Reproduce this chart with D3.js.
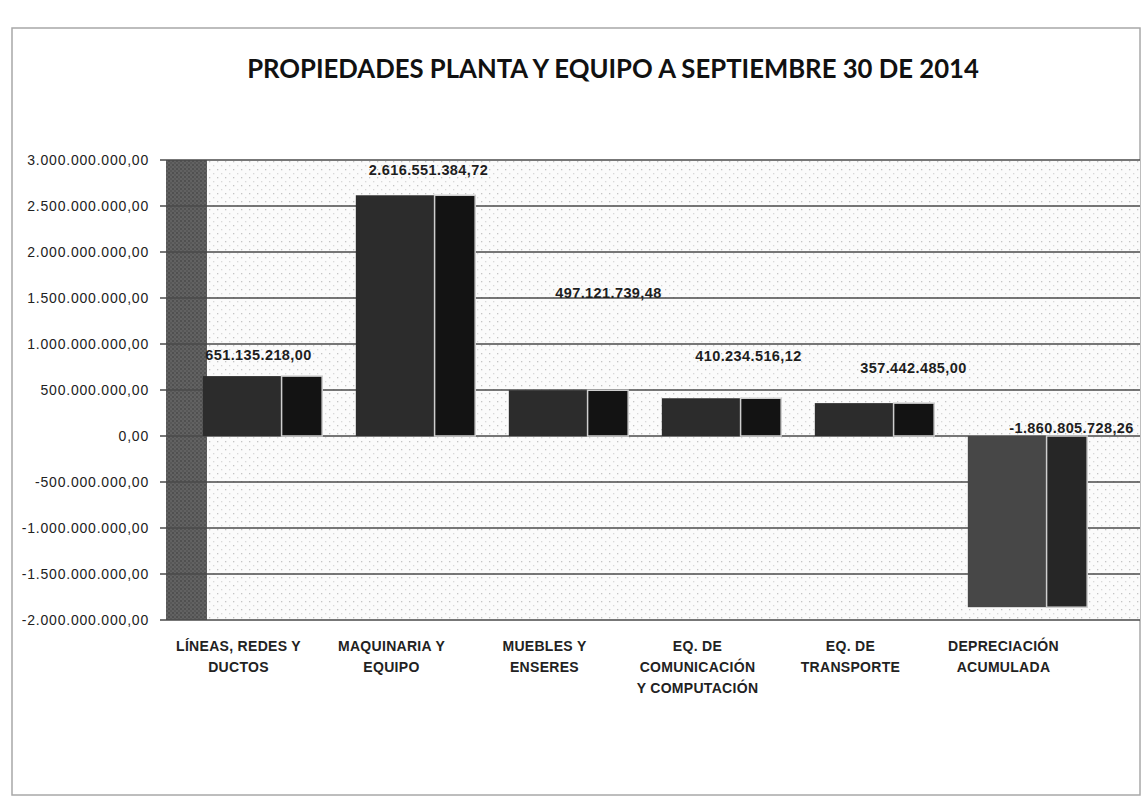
<!DOCTYPE html>
<html>
<head>
<meta charset="utf-8">
<script src="https://cdn.jsdelivr.net/npm/d3@7"></script>
<style>
  body { margin: 0; background: #fff; }
  svg { display: block; }
  .tick text { font-family: "Liberation Sans", Arial, sans-serif; }
</style>
</head>
<body>
<svg id="chart"></svg>
<script>
var width = 1142;
var height = 802;

// data
var categories = [
  ["LÍNEAS, REDES Y", "DUCTOS"],
  ["MAQUINARIA Y", "EQUIPO"],
  ["MUEBLES Y", "ENSERES"],
  ["EQ. DE", "COMUNICACIÓN", "Y COMPUTACIÓN"],
  ["EQ. DE", "TRANSPORTE"],
  ["DEPRECIACIÓN", "ACUMULADA"]
];
var values = [651135218.00, 2616551384.72, 497121739.48, 410234516.12, 357442485.00, -1860805728.26];
var yTicks = [3000000000, 2500000000, 2000000000, 1500000000, 1000000000, 500000000, 0,
  -500000000, -1000000000, -1500000000, -2000000000];

// where Excel dropped the value labels (offset from bar centre / bar end)
var labelDx = [-4, 13, 40, 27, 39, 44];
var labelDy = [-21, -25, -97, -42, -35, -8];

var locale = d3.formatLocale({ decimal: ",", thousands: ".", grouping: [3], currency: ["", ""], minus: "-" });
var fmt = locale.format(",.2f");

var svg = d3.select("#chart").attr("width", width).attr("height", height);
var defs = svg.append("defs");

var dots = defs.append("pattern")
  .attr("id", "dots").attr("patternUnits", "userSpaceOnUse")
  .attr("width", 8).attr("height", 8);
dots.append("rect").attr("width", 8).attr("height", 8).attr("fill", "#fbfbfb");
dots.append("rect").attr("x", 1).attr("y", 1).attr("width", 1.3).attr("height", 1.3).attr("fill", "#c4c4c4");
dots.append("rect").attr("x", 5).attr("y", 5).attr("width", 1.3).attr("height", 1.3).attr("fill", "#d8d8d8");

var wallDots = defs.append("pattern")
  .attr("id", "wallDots").attr("patternUnits", "userSpaceOnUse")
  .attr("width", 4).attr("height", 4);
wallDots.append("rect").attr("width", 4).attr("height", 4).attr("fill", "#626262");
wallDots.append("rect").attr("width", 2).attr("height", 2).attr("fill", "#505050");
wallDots.append("rect").attr("x", 2).attr("y", 2).attr("width", 2).attr("height", 2).attr("fill", "#575757");

// outer chart frame (scanned page)
svg.append("rect")
  .attr("x", 12).attr("y", 28).attr("width", 1128).attr("height", 767)
  .attr("fill", "#fff").attr("stroke", "#a8a8a8").attr("stroke-width", 1.5);

svg.append("text")
  .attr("x", 613).attr("y", 78)
  .attr("text-anchor", "middle")
  .style("font-family", "Lato, 'Liberation Sans', sans-serif")
  .style("font-weight", "bold")
  .style("font-size", "25.7px")
  .style("fill", "#111")
  .text("PROPIEDADES PLANTA Y EQUIPO A SEPTIEMBRE 30 DE 2014");

var plotLeft = 166, wallRight = 207, plotRight = 1140;

var y = d3.scaleLinear().domain([-2000000000, 3000000000]).range([620, 160]);
var x = d3.scaleBand()
  .domain(d3.range(values.length))
  .range([186, 1104])
  .paddingInner(0.22)
  .paddingOuter(0.11);

// dotted back wall and dark side wall
svg.append("rect")
  .attr("x", wallRight).attr("y", y(3000000000))
  .attr("width", plotRight - wallRight).attr("height", y(-2000000000) - y(3000000000))
  .attr("fill", "url(#dots)");
svg.append("rect")
  .attr("x", plotLeft).attr("y", y(3000000000))
  .attr("width", wallRight - plotLeft).attr("height", y(-2000000000) - y(3000000000))
  .attr("fill", "url(#wallDots)");

// gridlines
svg.append("g").selectAll("line")
  .data(yTicks)
  .enter().append("line")
  .attr("x1", plotLeft - 6).attr("x2", plotRight)
  .attr("y1", function(d) { return y(d); })
  .attr("y2", function(d) { return y(d); })
  .attr("stroke", "#4a4a4a")
  .attr("stroke-width", 1.6);

// y axis labels
var yAxis = svg.append("g")
  .attr("transform", "translate(149,0)")
  .call(d3.axisLeft(y).tickValues(yTicks).tickFormat(fmt).tickSize(0).tickPadding(0));
yAxis.select(".domain").remove();
yAxis.selectAll("text")
  .style("font-size", "14px")
  .style("letter-spacing", "0.8px")
  .style("fill", "#222");

// bars: front face + darker side face
var bars = svg.append("g").selectAll("g")
  .data(values)
  .enter().append("g");

var frontFrac = 0.66;
bars.append("rect")
  .attr("x", function(d, i) { return x(i); })
  .attr("y", function(d) { return y(Math.max(0, d)); })
  .attr("width", x.bandwidth() * frontFrac)
  .attr("height", function(d) { return Math.abs(y(d) - y(0)); })
  .attr("fill", function(d) { return d < 0 ? "#474747" : "#2c2c2c"; });

bars.append("rect")
  .attr("x", function(d, i) { return x(i) + x.bandwidth() * frontFrac; })
  .attr("y", function(d) { return y(Math.max(0, d)); })
  .attr("width", x.bandwidth() * (1 - frontFrac))
  .attr("height", function(d) { return Math.abs(y(d) - y(0)); })
  .attr("fill", function(d) { return d < 0 ? "#262626" : "#131313"; })
  .attr("stroke", "#cfcfcf")
  .attr("stroke-width", 1.5);

// value labels
svg.append("g").selectAll("text")
  .data(values)
  .enter().append("text")
  .attr("x", function(d, i) { return x(i) + x.bandwidth() / 2 + labelDx[i]; })
  .attr("y", function(d, i) { return y(Math.max(0, d)) + labelDy[i]; })
  .attr("text-anchor", "middle")
  .attr("dy", "0.35em")
  .style("font-family", "'Liberation Sans', Arial, sans-serif")
  .style("font-weight", "bold")
  .style("font-size", "14.5px")
  .style("letter-spacing", "0.4px")
  .style("fill", "#1e1e1e")
  .text(function(d) { return fmt(d); });

// category labels
var catG = svg.append("g").selectAll("text")
  .data(categories)
  .enter().append("text")
  .attr("x", function(d, i) { return x(i) + x.bandwidth() / 2 - 24; })
  .attr("y", 651)
  .attr("text-anchor", "middle")
  .style("font-family", "'Liberation Sans', Arial, sans-serif")
  .style("font-weight", "bold")
  .style("font-size", "14px")
  .style("letter-spacing", "0.3px")
  .style("fill", "#222");
catG.selectAll("tspan")
  .data(function(d) { return d; })
  .enter().append("tspan")
  .attr("x", function() { return d3.select(this.parentNode).attr("x"); })
  .attr("dy", function(d, j) { return j === 0 ? 0 : 21; })
  .text(function(d) { return d; });
</script>
</body>
</html>
